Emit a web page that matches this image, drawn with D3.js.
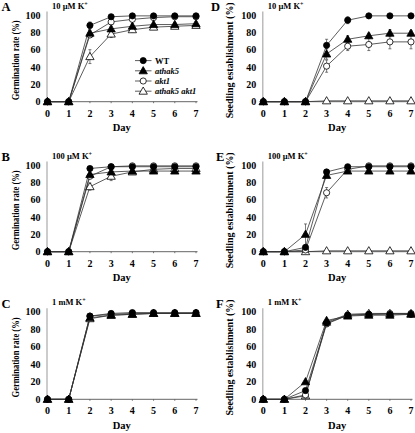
<!DOCTYPE html>
<html><head><meta charset="utf-8">
<script src="https://cdn.jsdelivr.net/npm/d3@7"></script>
<style>body{margin:0;background:#fff}svg{display:block}text{font-family:"Liberation Serif","Times New Roman",serif;font-weight:bold}</style>
</head><body>
<script>
const days = [0,1,2,3,4,5,6,7];
const seriesNames = ["WT","athak5","akt1","athak5 akt1"];
const yTicks = [0,20,40,60,80,100];

// Panel A: 10 µM K+, germination
const gA_WT = [0,0,88,98,99,99,99,99];
const gA_hak = [0,0,79,84,87,89,89,90];
const gA_akt = [0,0,77,92,95,97,98,98];
const gA_dbl = [0,0,52,78,83,86,87,88];
const eA_WT = [0,0,4,2,1,1,1,1];
const eA_hak = [0,0,3,3,3,3,2,2];
const eA_akt = [0,0,3,2,2,1,1,1];
const eA_dbl = [0,0,8,4,3,2,2,2];
// Panel B: 100 µM K+, germination
const gB_WT = [0,0,96,98,98,98,98,98];
const gB_hak = [0,0,89,92,93,93,93,93];
const gB_akt = [0,0,87,98,99,99,99,99];
const gB_dbl = [0,0,75,87,92,95,96,96];
const eB_dbl = [0,0,4,5,2,1,1,1];
// Panel C: 1 mM K+, germination
const gC_WT = [0,0,95,98,99,99,99,99];
const gC_hak = [0,0,93,96,97,98,98,98];
const gC_akt = [0,0,95,97,98,98,98,98];
const gC_dbl = [0,0,92,96,97,98,98,98];
// Panel D: 10 µM K+, seedling establishment
const sD_WT = [0,0,0,65,94,99,99,99];
const sD_hak = [0,0,0,55,72,76,79,79];
const sD_akt = [0,0,0,41,64,66,69,69];
const sD_dbl = [0,0,0,1,1,1,1,1];
const eD_WT = [0,0,0,7,4,1,1,1];
const eD_hak = [0,0,0,6,4,3,4,3];
const eD_akt = [0,0,0,7,5,7,8,8];
// Panel E: 100 µM K+, seedling establishment
const sE_WT = [0,0,5,92,98,98,98,98];
const sE_hak = [0,0,20,88,93,93,93,93];
const sE_akt = [0,0,2,68,95,99,99,99];
const sE_dbl = [0,0,0,1,1,1,1,1];
const eE_hak = [0,0,12,2,1,1,1,1];
const eE_akt = [0,0,1,6,2,1,1,1];
// Panel F: 1 mM K+, seedling establishment
const sF_WT = [0,0,10,87,96,97,97,97];
const sF_hak = [0,0,20,90,95,96,96,97];
const sF_akt = [0,0,5,86,96,97,98,98];
const sF_dbl = [0,0,4,88,97,98,98,98];

const zeros = days.map(()=>0);
const panels = [
  {letter:"A", title:"10 µM K", col:0, row:0, ylab:"Germination rate (%)", vals:[gA_WT,gA_hak,gA_akt,gA_dbl], errs:[eA_WT,eA_hak,eA_akt,eA_dbl], legend:true},
  {letter:"B", title:"100 µM K", col:0, row:1, ylab:"Germination rate (%)", vals:[gB_WT,gB_hak,gB_akt,gB_dbl], errs:[zeros,zeros,zeros,eB_dbl]},
  {letter:"C", title:"1 mM K", col:0, row:2, ylab:"Germination rate (%)", vals:[gC_WT,gC_hak,gC_akt,gC_dbl], errs:[zeros,zeros,zeros,zeros]},
  {letter:"D", title:"10 µM K", col:1, row:0, ylab:"Seedling establishment (%)", vals:[sD_WT,sD_hak,sD_akt,sD_dbl], errs:[eD_WT,eD_hak,eD_akt,zeros]},
  {letter:"E", title:"100 µM K", col:1, row:1, ylab:"Seedling establishment (%)", vals:[sE_WT,sE_hak,sE_akt,sE_dbl], errs:[zeros,eE_hak,eE_akt,zeros]},
  {letter:"F", title:"1 mM K", col:1, row:2, ylab:"Seedling establishment (%)", vals:[sF_WT,sF_hak,sF_akt,sF_dbl], errs:[zeros,zeros,zeros,zeros]}
];

const W = 415, H = 433;
const svg = d3.select("body").append("svg").attr("width",W).attr("height",H);

const colX = [[47.5,196],[263.3,411]];
const rowY = [[101.7,15],[251.7,165],[399.3,311.7]];
const styles = [
  {shape:"circle", fill:"#000"},
  {shape:"triangle", fill:"#000"},
  {shape:"circle", fill:"#fff"},
  {shape:"triangle", fill:"#fff"}
];
const symCircle = d3.symbol().type(d3.symbolCircle).size(30);
const symTri = d3.symbol().type(d3.symbolTriangle).size(30);

function marker(g, st, x, y){
  g.append("path").attr("d", st.shape==="circle"?symCircle():symTri())
   .attr("transform",`translate(${x},${y + (st.shape==="triangle"?0.6:0)})`)
   .attr("fill",st.fill).attr("stroke","#000").attr("stroke-width",0.8);
}

panels.forEach(p=>{
  const [xa,xb] = colX[p.col];
  const [ya,yb] = rowY[p.row];
  const x = d3.scaleLinear().domain([0,7]).range([xa,xb]);
  const y = d3.scaleLinear().domain([0,100]).range([ya,yb]);
  const g = svg.append("g");

  // y axis
  g.append("line").attr("x1",xa-0.5).attr("x2",xa-0.5).attr("y1",y(0)).attr("y2",y(104))
    .attr("stroke","#aaa").attr("stroke-width",1.2);
  yTicks.forEach(t=>{
    g.append("text").attr("x",xa-7).attr("y",y(t)).attr("dy","0.35em")
     .attr("text-anchor","end").attr("font-size",10).text(t);
  });
  // x axis
  g.append("line").attr("x1",xa-0.5).attr("x2",xb+1.5).attr("y1",y(0)).attr("y2",y(0))
    .attr("stroke","#555").attr("stroke-width",0.9);
  days.forEach(d=>{
    g.append("line").attr("x1",x(d)).attr("x2",x(d)).attr("y1",y(0)).attr("y2",y(0)+1.5)
     .attr("stroke","#555").attr("stroke-width",0.8);
    g.append("text").attr("x",x(d)).attr("y",y(0)+11.5).attr("dy","0.35em")
     .attr("text-anchor","middle").attr("font-size",10).text(d);
  });
  g.append("text").attr("x",(xa+xb)/2).attr("y",y(0)+26).attr("dy","0.35em")
    .attr("text-anchor","middle").attr("font-size",10.5).text("Day");

  // y label
  const lx = p.col===0 ? 15.5 : 229;
  const isG = p.col===0;
  g.append("text").attr("transform",`translate(${lx},${(ya+yb)/2+2}) rotate(-90)`)
    .attr("text-anchor","middle").attr("dy","0.35em").attr("font-size", isG?9.5:10)
    .attr("textLength", isG?80:116).attr("lengthAdjust","spacingAndGlyphs")
    .text(p.ylab);

  // letter
  g.append("text").attr("x", p.col===0?1.5:(p.row===0?211:216)).attr("y", yb-4)
    .attr("font-size",12.5).text(p.letter);
  // title
  const tt = g.append("text").attr("x", xa+4.5).attr("y", yb-6.5).attr("font-size",8.5);
  tt.append("tspan").text(p.title);
  tt.append("tspan").attr("dy",-3).attr("font-size",6).text("+");

  // lines
  const line = d3.line().x((d,i)=>x(days[i])).y(d=>y(d));
  p.vals.forEach((v,si)=>{
    g.append("path").datum(v).attr("d",line).attr("fill","none")
     .attr("stroke","#333").attr("stroke-width",0.8);
  });
  // error bars
  p.vals.forEach((v,si)=>{
    v.forEach((val,i)=>{
      const e = p.errs[si][i];
      if(e>1.5){
        const cx = x(days[i]);
        g.append("line").attr("x1",cx).attr("x2",cx).attr("y1",y(val-e)).attr("y2",y(val+e))
          .attr("stroke","#444").attr("stroke-width",0.7);
        [val-e,val+e].forEach(vv=>g.append("line").attr("x1",cx-1.5).attr("x2",cx+1.5)
          .attr("y1",y(vv)).attr("y2",y(vv)).attr("stroke","#444").attr("stroke-width",0.7));
      }
    });
  });
  // markers (draw open ones last on top)
  [3,2,1,0].forEach(si=>{
    p.vals[si].forEach((val,i)=>marker(g, styles[si], x(days[i]), y(val)));
  });

  if(p.legend){
    const ly = [60.6, 70.8, 81, 91.2];
    seriesNames.forEach((n,si)=>{
      g.append("line").attr("x1",135).attr("x2",151.5).attr("y1",ly[si]).attr("y2",ly[si])
       .attr("stroke","#333").attr("stroke-width",0.8);
      marker(g, styles[si], 143.2, ly[si]);
      g.append("text").attr("x",155).attr("y",ly[si]).attr("dy","0.35em")
       .attr("font-size",8.5).attr("font-style", si===0?"normal":"italic").text(n);
    });
  }
});
</script>
</body></html>
